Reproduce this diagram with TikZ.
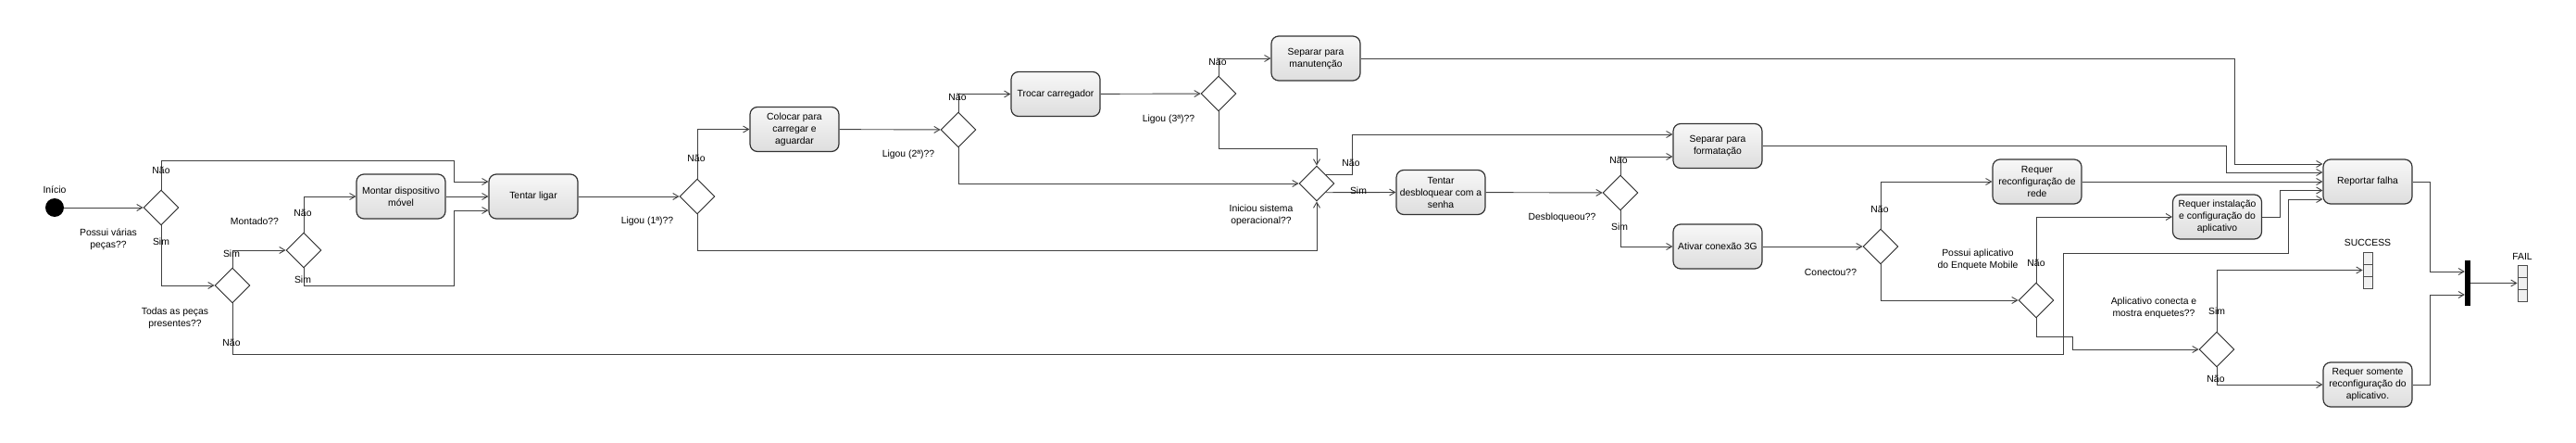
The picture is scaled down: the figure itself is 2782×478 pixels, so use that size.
\documentclass[tikz,border=0pt]{standalone}
\usepackage{fontspec}
\setmainfont{Liberation Sans}
\usetikzlibrary{shapes.geometric,arrows.meta}

\begin{document}
\begin{tikzpicture}[x=1pt,y=-1pt,font=\fontsize{10.4}{13}\selectfont,
  >={Straight Barb[length=6pt,width=7pt]}]
\tikzset{Acao/.style={draw=black!80,line width=1.2pt,rounded corners=8pt,top color=black!3,
    bottom color=black!13,minimum width=96pt,minimum height=48pt,align=center,inner sep=1pt},
  Decisao/.style={diamond,draw=black!85,line width=0.9pt,minimum width=38pt,minimum height=38pt,inner sep=0pt},
  Rotulo/.style={align=center,inner sep=0pt},
  Fluxo/.style={->,draw=black!75,line width=0.9pt},
  Final/.style={draw=black!70,line width=0.9pt,fill=black!6,minimum width=10pt,minimum height=39pt,inner sep=0pt}}
\useasboundingbox (0,0) rectangle (2782,478);
% nos
\node[circle,fill=black,minimum size=20pt,inner sep=0pt] (inicio) at (59,224) {};
\node[Rotulo] (tInicio) at (59,205) {Início};
\node[Decisao] (d1) at (174,224) {};
\node[Decisao] (d2) at (251,308) {};
\node[Decisao] (d3) at (328,270) {};
\node[Acao] (montar) at (433,212) {Montar dispositivo\\móvel};
\node[Acao] (ligar) at (576,212) {Tentar ligar};
\node[Decisao] (d4) at (753,212) {};
\node[Acao] (carregar) at (858,139.5) {Colocar para\\carregar e\\aguardar};
\node[Decisao] (d5) at (1035,140) {};
\node[Acao] (trocar) at (1140,101.5) {Trocar carregador};
\node[Decisao] (d6) at (1316,101) {};
\node[Acao] (manut) at (1421,63) {Separar para\\manutenção};
\node[Decisao] (d7) at (1422,198) {};
\node[Acao] (desbl) at (1556,207.5) {Tentar\\desbloquear com a\\senha};
\node[Decisao] (d8) at (1750,208) {};
\node[Acao] (format) at (1855,157.5) {Separar para\\formatação};
\node[Acao] (conexao) at (1855,266) {Ativar conexão 3G};
\node[Decisao] (d9) at (2031,266) {};
\node[Acao] (rede) at (2200,196) {Requer\\reconfiguração de\\rede};
\node[Decisao] (d10) at (2199,324) {};
\node[Acao] (instal) at (2394.5,234) {Requer instalação\\e configuração do\\aplicativo};
\node[Acao] (falha) at (2557,196) {Reportar falha};
\node[Decisao] (d11) at (2394,377) {};
\node[Acao] (somente) at (2557,415) {Requer somente\\reconfiguração do\\aplicativo.};
\node[Final] (sucesso) at (2557,291.5) {};
\node[fill=black,minimum width=6pt,minimum height=49pt,inner sep=0pt] (barra) at (2665,305.5) {};
\node[Final] (fail) at (2724,305.5) {};
\draw[black!70] ([yshift=6.5pt]sucesso.west) -- ([yshift=6.5pt]sucesso.east)
  ([yshift=-6.5pt]sucesso.west) -- ([yshift=-6.5pt]sucesso.east);
\draw[black!70] ([yshift=6.5pt]fail.west) -- ([yshift=6.5pt]fail.east)
  ([yshift=-6.5pt]fail.west) -- ([yshift=-6.5pt]fail.east);
% perguntas
\node[Rotulo] (q1) at (117,258) {Possui várias\\peças??};
\node[Rotulo] (q2) at (189,343) {Todas as peças\\presentes??};
\node[Rotulo] (q3) at (275,239) {Montado??};
\node[Rotulo] (q4) at (699,239) {Ligou (1ª)??};
\node[Rotulo] (q5) at (981,167) {Ligou (2ª)??};
\node[Rotulo] (q6) at (1262,129) {Ligou (3ª)??};
\node[Rotulo] (q7) at (1362,232) {Iniciou sistema\\operacional??};
\node[Rotulo] (q8) at (1687,235) {Desbloqueou??};
\node[Rotulo] (q9) at (1977,294) {Conectou??};
\node[Rotulo] (q10) at (2136,280) {Possui aplicativo\\do Enquete Mobile};
\node[Rotulo] (q11) at (2326,332) {Aplicativo conecta e\\mostra enquetes??};
\node[Rotulo] (tSucesso) at (2557,262) {SUCCESS};
\node[Rotulo] (tFail) at (2724,277) {FAIL};
% fluxos
\draw[Fluxo] (inicio) -- (d1);
\draw[Fluxo] (d1.north) |- (490,173) |- ([yshift=16pt]ligar.west);
\draw[Fluxo] (d1.south) |- (d2.west);
\draw[Fluxo] (d2.north) |- (d3.west);
\draw[Fluxo] (d3.north) |- (montar.west);
\draw[Fluxo] (d3.south) |- (490,308) |- ([yshift=-15pt]ligar.west);
\draw[Fluxo] (montar) -- (ligar);
\draw[Fluxo] (ligar) -- (d4);
\draw[Fluxo] (d4.north) |- (carregar.west);
\draw[Fluxo] (d4.south) -- ++(0,39) -| (d7.south);
\draw[Fluxo] (carregar) -- (d5);
\draw[Fluxo] (d5.north) |- (trocar.west);
\draw[Fluxo] (d5.south) |- (d7.west);
\draw[Fluxo] (trocar) -- (d6);
\draw[Fluxo] (d6.north) |- (manut.west);
\draw[Fluxo] (d6.south) -- ++(0,40) -| (d7.north);
\draw[Fluxo] (manut.east) -| (2413,177) -- ([yshift=19pt]falha.west);
\draw[Fluxo] (d7.north east) -| (1460,145) |- ([yshift=12.5pt]format.west);
\draw[Fluxo] (d7.south east) -- (desbl.west);
\draw[Fluxo] (desbl) -- (d8);
\draw[Fluxo] (d8.north) |- ([yshift=-11.5pt]format.west);
\draw[Fluxo] (d8.south) |- (conexao.west);
\draw[Fluxo] (format.east) -| (2404,186) -- ([yshift=10pt]falha.west);
\draw[Fluxo] (conexao) -- (d9);
\draw[Fluxo] (d9.north) |- (rede.west);
\draw[Fluxo] (d9.south) |- (d10.west);
\draw[Fluxo] (rede) -- (falha);
\draw[Fluxo] (d10.north) |- (instal.west);
\draw[Fluxo] (instal.east) -| (2462,205.5) -- ([yshift=-9.5pt]falha.west);
\draw[Fluxo] (d2.south) |- (2228,382) |- (2471,273) |- ([yshift=-19pt]falha.west);
\draw[Fluxo] (d10.south) |- (2238,363) |- (d11.west);
\draw[Fluxo] (d11.north) |- (sucesso.west);
\draw[Fluxo] (d11.south) |- (somente.west);
\draw[Fluxo] (falha.east) -| (2624,293) -- ([yshift=12.5pt]barra.west);
\draw[Fluxo] (somente.east) -| (2624,318) -- ([yshift=-12.5pt]barra.west);
\draw[Fluxo] (barra) -- (fail);
% respostas
\node[Rotulo] (n1) at (174,184) {Não};
\node[Rotulo] (s1) at (174,261) {Sim};
\node[Rotulo] (s2) at (250,274) {Sim};
\node[Rotulo] (n2) at (250,370) {Não};
\node[Rotulo] (n3) at (327,230) {Não};
\node[Rotulo] (s3) at (327,302) {Sim};
\node[Rotulo] (n4) at (752,171) {Não};
\node[Rotulo] (n5) at (1034,105) {Não};
\node[Rotulo] (n6) at (1315,67) {Não};
\node[Rotulo] (n7) at (1459,176) {Não};
\node[Rotulo] (s7) at (1467,206) {Sim};
\node[Rotulo] (n8) at (1748,173) {Não};
\node[Rotulo] (s8) at (1749,245) {Sim};
\node[Rotulo] (n9) at (2030,226) {Não};
\node[Rotulo] (n10) at (2199,284) {Não};
\node[Rotulo] (s11) at (2394,336) {Sim};
\node[Rotulo] (n11) at (2393,409) {Não};
\end{tikzpicture}
\end{document}
